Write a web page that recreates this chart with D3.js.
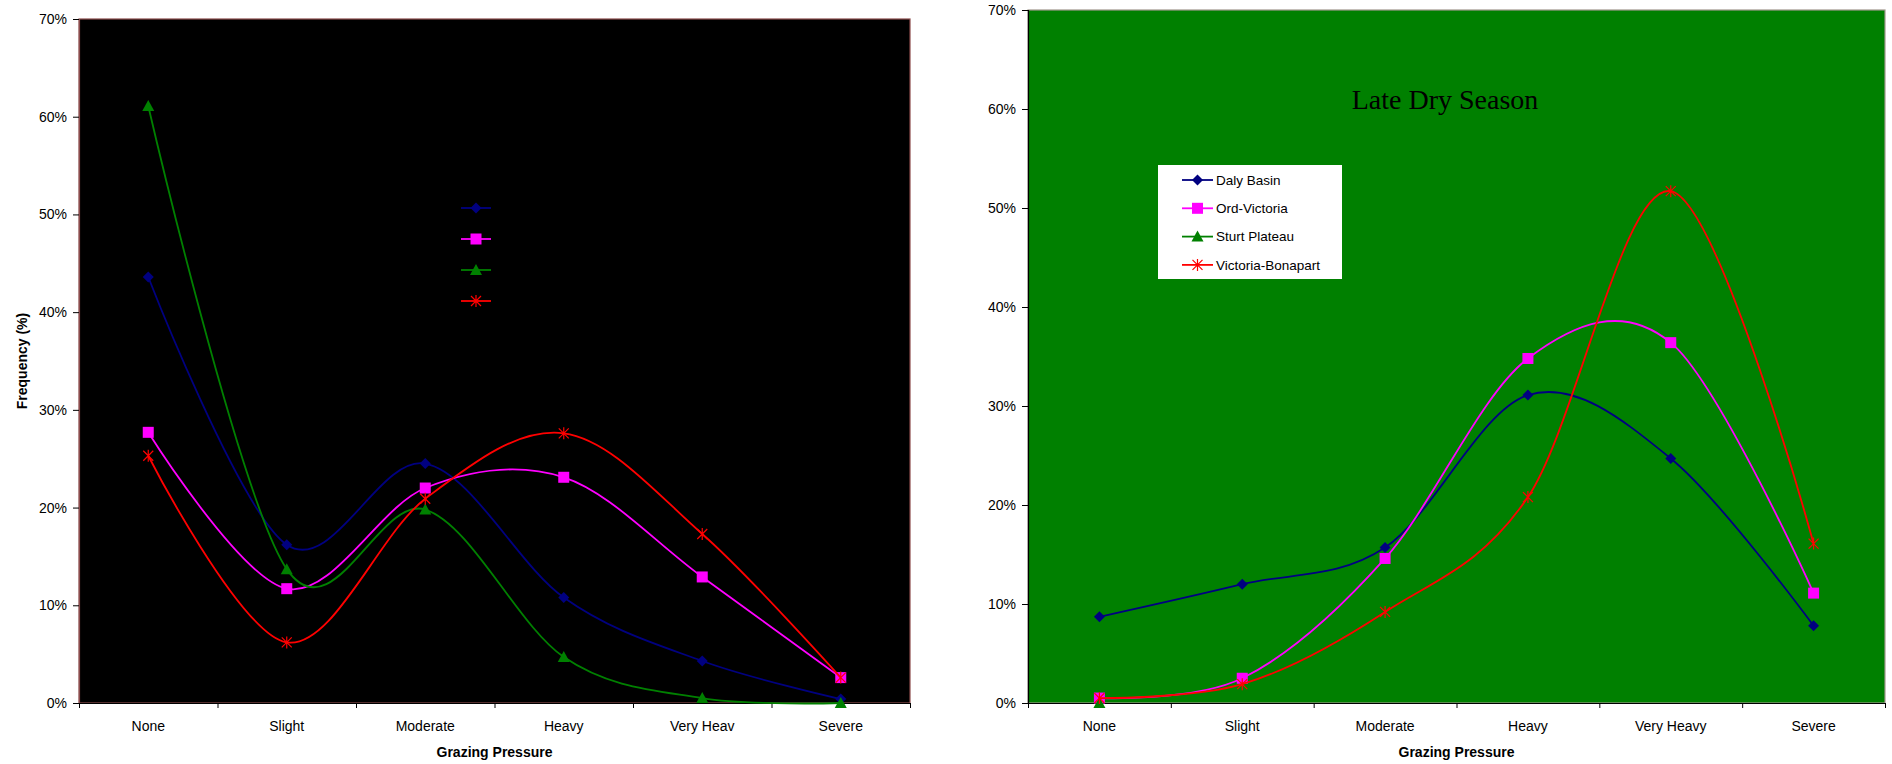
<!DOCTYPE html>
<html><head><meta charset="utf-8">
<script src="https://cdn.jsdelivr.net/npm/d3@7"></script>
<style>
body{margin:0;background:#fff}
svg{display:block}
text{font-family:"Liberation Sans",Arial,sans-serif}
</style>
</head><body>
<svg id="c" width="1892" height="764"></svg>
<script>
// ---------- DATA ----------
const categoriesLeft = ["None", "Slight", "Moderate", "Heavy", "Very Heav", "Severe"];
const categoriesRight = ["None", "Slight", "Moderate", "Heavy", "Very Heavy", "Severe"];
const seriesNames = ["Daly Basin", "Ord-Victoria", "Sturt Plateau", "Victoria-Bonapart"];

const leftDaly  = [43.6, 16.2, 24.5, 10.8, 4.3, 0.4];
const leftOrd   = [27.7, 11.7, 22.0, 23.1, 12.9, 2.6];
const leftSturt = [61.1, 13.7, 19.8, 4.7, 0.5, 0.0];
const leftVB    = [25.3, 6.2, 20.9, 27.6, 17.3, 2.6];

const rightDaly  = [8.7, 12.0, 15.7, 31.1, 24.7, 7.8];
const rightOrd   = [0.5, 2.5, 14.6, 34.8, 36.4, 11.1];
const rightSturt = [0.0, null, null, null, null, null];
const rightVB    = [0.5, 1.9, 9.2, 20.8, 51.7, 16.1];

const yTickValues = [0, 10, 20, 30, 40, 50, 60, 70];
const titleRight = "Late Dry Season";
const xTitle = "Grazing Pressure";
const yTitle = "Frequency (%)";

// ---------- STYLE ----------
const seriesColors = ["#000080", "#FF00FF", "#008000", "#FF0000"];
const seriesMarkers = ["diamond", "square", "triangle", "star"];

const svg = d3.select("#c");

function drawMarker(g, type, color, x, y) {
  if (type === "diamond") {
    g.append("path").attr("d", `M${x},${y-5.5}L${x+5.5},${y}L${x},${y+5.5}L${x-5.5},${y}Z`).attr("fill", color);
  } else if (type === "square") {
    g.append("rect").attr("x", x-5.5).attr("y", y-5.5).attr("width", 11).attr("height", 11).attr("fill", color);
  } else if (type === "triangle") {
    g.append("path").attr("d", `M${x},${y-6}L${x+6},${y+5}L${x-6},${y+5}Z`).attr("fill", color);
  } else {
    g.append("path").attr("d", `M${x-5},${y-5}L${x+5},${y+5}M${x-5},${y+5}L${x+5},${y-5}M${x},${y-6}L${x},${y+6}`)
      .attr("stroke", color).attr("stroke-width", 1.2).attr("fill", "none");
  }
}

function drawChart(cfg) {
  const {x0, x1, y0, y1, categories, series, bg, border, yAxisColor} = cfg;
  const g = svg.append("g");
  const x = d3.scaleBand().domain(categories).range([x0, x1]).padding(0);
  const xi = d3.scaleLinear().domain([0, categories.length]).range([x0, x1]);
  const y = d3.scaleLinear().domain([0, 70]).range([y1, y0]);
  const cx = c => x(c) + x.bandwidth() / 2;

  g.append("rect").attr("x", x0).attr("y", y0).attr("width", x1 - x0).attr("height", y1 - y0)
    .attr("fill", bg).attr("stroke", border).attr("stroke-width", 1.2);

  // y axis
  const ya = g.append("g").attr("transform", `translate(${x0},0)`)
    .call(d3.axisLeft(y).tickValues(yTickValues).tickFormat(d => d + "%").tickSize(6).tickPadding(6));
  ya.select(".domain").attr("stroke", yAxisColor).attr("stroke-width", 1.2);
  ya.selectAll(".tick line").attr("stroke", "#000");
  ya.selectAll("text").attr("font-size", 14).attr("fill", "#000")
    .style("font-family", '"Liberation Sans",Arial,sans-serif');

  // x axis labels
  const xa = g.append("g").attr("transform", `translate(0,${y1})`)
    .call(d3.axisBottom(x).tickSize(0).tickPadding(18));
  xa.select(".domain").remove();
  xa.selectAll("text").attr("font-size", 14).attr("fill", "#000")
    .style("font-family", '"Liberation Sans",Arial,sans-serif');
  // x axis line + boundary ticks
  const xt = g.append("g").attr("transform", `translate(0,${y1})`)
    .call(d3.axisBottom(xi).tickValues(d3.range(categories.length + 1)).tickFormat("").tickSizeInner(5).tickSizeOuter(0));
  xt.select(".domain").attr("stroke", "#000").attr("stroke-width", 1.2);
  xt.selectAll(".tick line").attr("stroke", "#000");

  g.append("text").attr("x", (x0 + x1) / 2).attr("y", 757).attr("text-anchor", "middle")
    .attr("font-size", 14).attr("font-weight", "bold").text(xTitle);

  const line = d3.line().defined(d => d.v !== null)
    .x(d => cx(d.c)).y(d => y(d.v)).curve(d3.curveCardinal.tension(0));

  series.forEach((vals, i) => {
    const pts = vals.map((v, j) => ({c: categories[j], v}));
    const sg = g.append("g");
    sg.append("path").datum(pts).attr("d", line).attr("fill", "none")
      .attr("stroke", seriesColors[i]).attr("stroke-width", 1.8);
    pts.filter(p => p.v !== null).forEach(p => drawMarker(sg, seriesMarkers[i], seriesColors[i], cx(p.c), y(p.v)));
  });
  return g;
}

// ---------- LEFT CHART ----------
const gl = drawChart({
  x0: 79, x1: 910, y0: 19, y1: 703,
  categories: categoriesLeft,
  series: [leftDaly, leftOrd, leftSturt, leftVB],
  bg: "#000000", border: "#8c4c4c", yAxisColor: "#8c4c4c"
});
gl.append("text").attr("transform", "translate(27,361) rotate(-90)").attr("text-anchor", "middle")
  .attr("font-size", 14).attr("font-weight", "bold").text(yTitle);

// left legend (black text on black background)
seriesNames.forEach((name, i) => {
  const ly = 208 + i * 31;
  gl.append("line").attr("x1", 461).attr("x2", 491).attr("y1", ly).attr("y2", ly)
    .attr("stroke", seriesColors[i]).attr("stroke-width", 1.8);
  drawMarker(gl, seriesMarkers[i], seriesColors[i], 476, ly);
  gl.append("text").attr("x", 495).attr("y", ly).attr("dy", "0.35em").attr("font-size", 13.5)
    .attr("fill", "#000").text(name);
});

// ---------- RIGHT CHART ----------
const gr = drawChart({
  x0: 1028, x1: 1885, y0: 10, y1: 703,
  categories: categoriesRight,
  series: [rightDaly, rightOrd, rightSturt, rightVB],
  bg: "#008000", border: "#a0968c", yAxisColor: "#000"
});
gr.append("text").attr("x", 1445).attr("y", 109).attr("text-anchor", "middle")
  .attr("font-size", 28).style("font-family", '"Liberation Serif","Times New Roman",serif')
  .attr("fill", "#000").text(titleRight);

const lg = gr.append("g");
lg.append("rect").attr("x", 1158).attr("y", 165).attr("width", 184).attr("height", 114).attr("fill", "#fff");
seriesNames.forEach((name, i) => {
  const ly = 180 + i * 28.3;
  lg.append("line").attr("x1", 1182).attr("x2", 1213).attr("y1", ly).attr("y2", ly)
    .attr("stroke", seriesColors[i]).attr("stroke-width", 1.8);
  drawMarker(lg, seriesMarkers[i], seriesColors[i], 1197.5, ly);
  lg.append("text").attr("x", 1216).attr("y", ly).attr("dy", "0.35em").attr("font-size", 13.5)
    .attr("fill", "#000").text(name);
});
</script>
</body></html>
